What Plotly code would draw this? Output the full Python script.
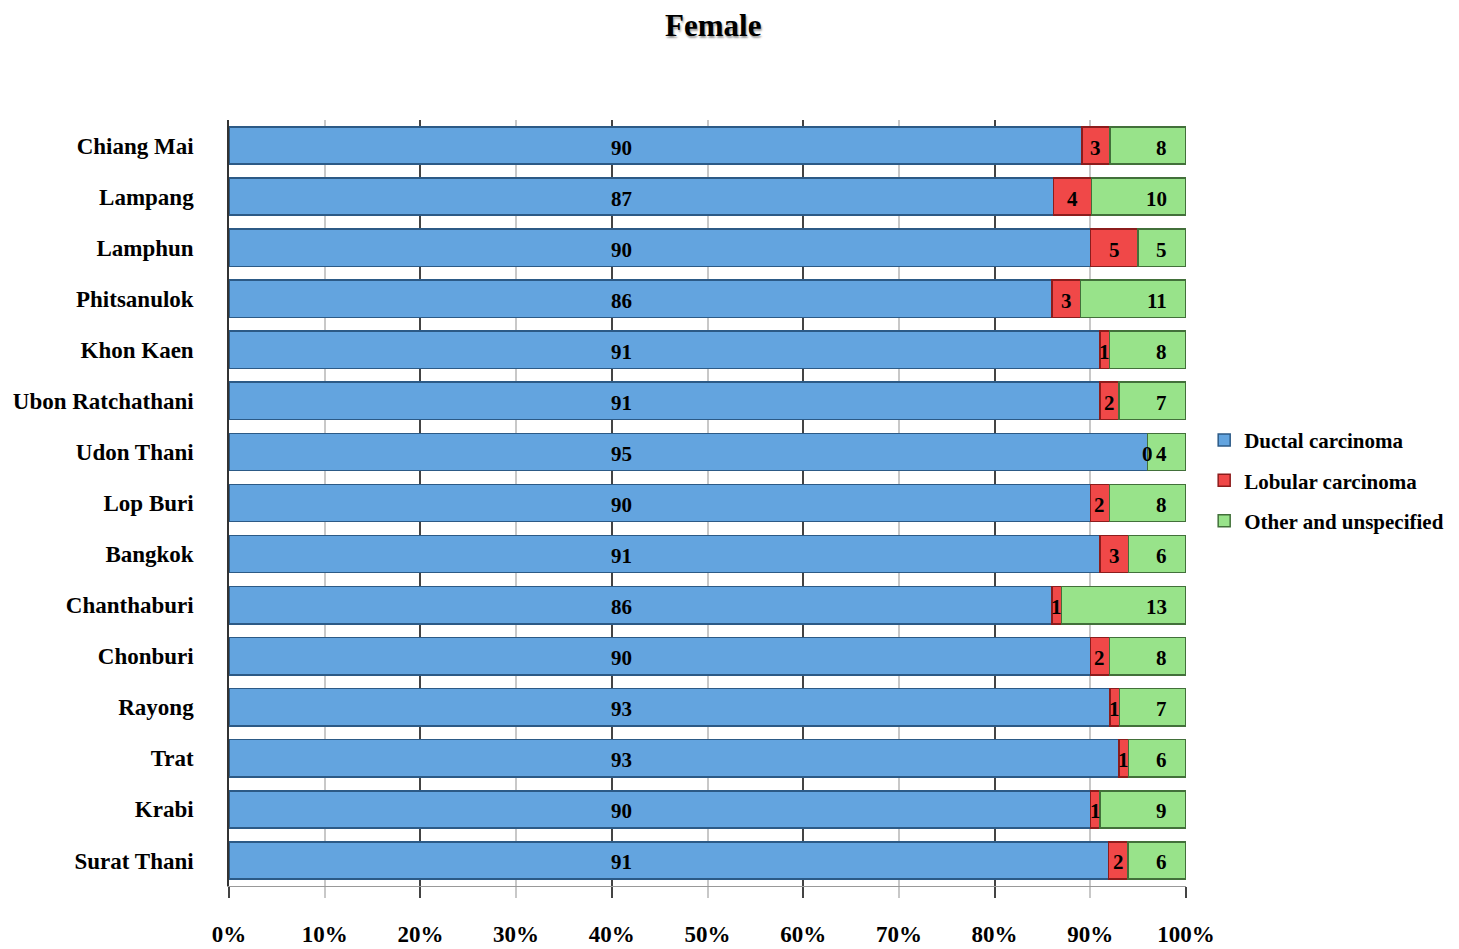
import plotly.graph_objects as go

provinces = ["Chiang Mai", "Lampang", "Lamphun", "Phitsanulok", "Khon Kaen",
             "Ubon Ratchathani", "Udon Thani", "Lop Buri", "Bangkok", "Chanthaburi",
             "Chonburi", "Rayong", "Trat", "Krabi", "Surat Thani"]
ductal = [90, 87, 90, 86, 91, 91, 95, 90, 91, 86, 90, 93, 93, 90, 91]
lobular = [3, 4, 5, 3, 1, 2, 0, 2, 3, 1, 2, 1, 1, 1, 2]
other = [8, 10, 5, 11, 8, 7, 4, 8, 6, 13, 8, 7, 6, 9, 6]
series_names = ["Ductal carcinoma", "Lobular carcinoma", "Other and unspecified"]
tick_vals = list(range(0, 101, 10))
tick_text = [f"{v}%" for v in tick_vals]

FONT = "Liberation Serif, Times New Roman, serif"
fills = ["#63a4df", "#f04848", "#98e38a"]
borders = ["#2c5a86", "#8c1c1c", "#42703a"]

fig = go.Figure()
for i, (name, vals) in enumerate(zip(series_names, [ductal, lobular, other])):
    fig.add_trace(go.Bar(
        y=provinces, x=vals, name=name, orientation="h",
        marker=dict(color=fills[i], line=dict(color=borders[i], width=1.5)),
        legendgroup=name, hoverinfo="x+y+name",
    ))

# value labels
ann = []
lab_font = dict(family=FONT, size=21, color="black", weight="bold")
for p, d, l, o in zip(provinces, ductal, lobular, other):
    tot = d + l + o
    ann.append(dict(x=41.0, y=p, xref="x", yref="y", text=str(d), showarrow=False,
                    font=lab_font, yshift=-2))
    ann.append(dict(x=(d + l / 2) / tot * 100, y=p, xref="x", yref="y", text=str(l),
                    showarrow=False, font=lab_font, yshift=-2))
    ann.append(dict(x=100, y=p, xref="x", yref="y", text=str(o), showarrow=False,
                    xanchor="right", xshift=-17, font=lab_font, yshift=-2))

n = len(provinces)
fig.update_layout(
    barmode="stack", barnorm="percent", bargap=0.27,
    width=1459, height=949, autosize=False,
    margin=dict(l=229, r=273, t=120, b=63, autoexpand=False),
    paper_bgcolor="white", plot_bgcolor="white",
    font=dict(family=FONT, color="black"),
    title=dict(text="Female", x=0.506, xref="paper", xanchor="center", y=0.974, yanchor="middle",
               font=dict(family=FONT, size=31, weight="bold", color="black",
                         shadow="1px 2px 2px #999")),
    xaxis=dict(range=[0, 100], tickvals=tick_vals, ticktext=tick_text,
               showgrid=True, gridcolor="#c8c8c8", gridwidth=1.5,
               ticks="outside", ticklen=11, tickcolor="#c8c8c8", tickwidth=1.5,
               ticklabelstandoff=16,
               tickfont=dict(family=FONT, size=23, weight="bold", color="black"),
               showline=True, linecolor="#999", linewidth=1, zeroline=False, fixedrange=True),
    xaxis2=dict(range=[0, 100], overlaying="x", side="bottom", dtick=20, tick0=0,
                showgrid=True, gridcolor="#444", gridwidth=1.5,
                ticks="outside", ticklen=11, tickcolor="#444", tickwidth=1.5,
                showticklabels=False, zeroline=False, showline=False),
    yaxis=dict(categoryorder="array", categoryarray=provinces, range=[n - 0.5, -0.5],
               tickfont=dict(family=FONT, size=23, weight="bold", color="black"),
               ticklabelstandoff=29, showline=True, linecolor="#333", linewidth=1.5,
               ticks="", showgrid=False),
    legend=dict(x=1.019, y=0.6085, xanchor="left", yanchor="top",
                font=dict(family=FONT, size=21, weight="bold", color="black"),
                traceorder="grouped", tracegroupgap=10, bgcolor="rgba(0,0,0,0)"),
    annotations=ann,
)
# invisible trace to activate the darker 20% grid axis
fig.add_trace(go.Scatter(x=[0, 100], y=[provinces[0], provinces[0]], xaxis="x2", mode="markers",
                         marker=dict(opacity=0), showlegend=False, hoverinfo="skip"))
fig.write_html("out.html", config={"displayModeBar": False},
               post_script="document.body.style.margin='0';document.body.style.overflow='hidden';")
